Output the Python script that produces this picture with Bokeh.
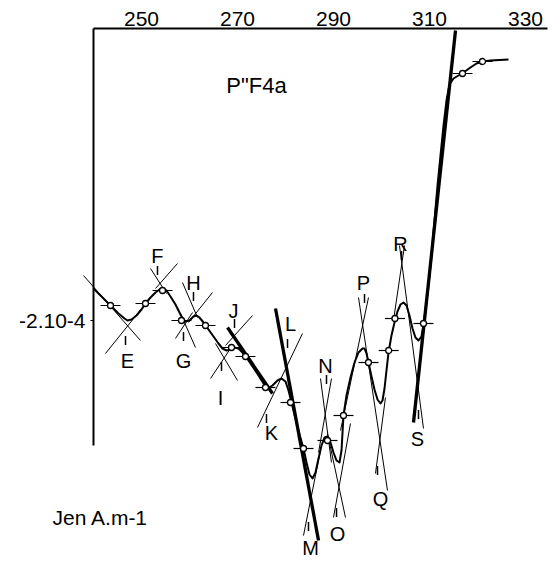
import math
from bokeh.plotting import figure
from bokeh.models import Range1d, FixedTicker, Label, ColumnDataSource
from bokeh.core.properties import value
from bokeh.embed import file_html
from bokeh.resources import INLINE

# ---- data (x in axis units, y in units of 1e-4 A/m) ----
x_ticks = [250, 270, 290, 310, 330]
y_ticks = [-2]
y_tick_labels = {-2: "-2.10-4"}

curve_x = [240.0, 241.67, 243.54, 245.21, 246.46, 247.08, 247.92, 248.96, 250.0, 250.83,
           251.88, 252.92, 253.75, 254.38, 255.21, 256.04, 257.08, 257.92, 258.54, 259.17,
           260.0, 260.83, 261.46, 262.08, 262.92, 263.96, 265.0, 266.04, 266.88, 267.71,
           268.54, 269.38, 270.21, 271.04, 271.88, 273.13, 274.38, 275.42, 276.25, 277.29,
           278.33, 279.17, 280.0, 280.63, 281.25, 282.08, 282.92, 283.75, 284.38, 285.0,
           285.63, 286.25, 286.88, 287.5, 288.13, 288.75, 289.38, 290.0, 290.63, 291.25,
           291.67, 292.08, 292.71, 293.54, 294.38, 295.21, 296.04, 296.46, 296.88, 297.29,
           297.92, 298.54, 299.17, 299.79, 300.21, 300.63, 301.04, 301.46, 302.08, 302.71,
           303.33, 303.96, 304.58, 305.21, 305.83, 306.46, 307.08, 307.71, 308.33, 308.75,
           309.17, 309.79, 310.42, 311.04, 311.67, 312.29, 312.92, 313.54, 314.17, 315.0,
           316.04, 317.08, 318.54, 319.79, 321.04, 322.71, 326.46]
curve_y = [-1.68, -1.76, -1.85, -1.93, -1.98, -2.0, -1.99, -1.95, -1.89, -1.83,
           -1.77, -1.72, -1.69, -1.68, -1.70, -1.76, -1.84, -1.92, -1.98, -2.01,
           -2.0, -1.96, -1.95, -1.97, -2.02, -2.09, -2.16, -2.23, -2.28, -2.30,
           -2.29, -2.27, -2.28, -2.32, -2.37, -2.46, -2.55, -2.63, -2.68, -2.65,
           -2.60, -2.58, -2.61, -2.70, -2.82, -2.98, -3.14, -3.28, -3.42, -3.54,
           -3.58, -3.52, -3.38, -3.25, -3.17, -3.16, -3.22, -3.32, -3.40, -3.42,
           -3.30, -2.95, -2.75, -2.57, -2.42, -2.32, -2.28, -2.28, -2.33, -2.42,
           -2.56, -2.69, -2.79, -2.83, -2.80, -2.68, -2.50, -2.32, -2.15, -2.02,
           -1.91, -1.84, -1.82, -1.85, -1.95, -2.08, -2.17, -2.20, -2.16, -2.05,
           -1.90, -1.65, -1.35, -1.00, -0.65, -0.35, -0.05, 0.20, 0.36, 0.42,
           0.45, 0.48, 0.53, 0.57, 0.59, 0.60, 0.61]

# reading points (small open circles with a horizontal stroke)
mark_x = [243.54, 250.83, 254.38, 258.33, 263.33, 268.75, 271.67, 275.83, 281.04,
          283.75, 288.75, 292.08, 297.29, 301.5, 302.8, 308.75, 316.88, 321.04]
mark_y = [-1.85, -1.83, -1.70, -2.00, -2.05, -2.27, -2.36, -2.67, -2.82,
          -3.28, -3.20, -2.95, -2.42, -2.30, -1.98, -2.03, 0.47, 0.59]

# extrema letters and their small vertical strokes
letters = ["E", "F", "G", "H", "I", "J", "K", "L", "M", "N", "O", "P", "Q", "R", "S"]
letter_x = [247.08, 253.33, 258.75, 260.83, 266.46, 269.17, 277.08, 281.04, 285.21,
            288.33, 290.83, 296.25, 299.79, 303.96, 307.5]
letter_y = [-2.40, -1.35, -2.40, -1.62, -2.77, -1.90, -3.12, -2.03, -4.27,
            -2.45, -4.13, -1.62, -3.78, -1.23, -3.18]
tick_x = [246.67, 253.33, 258.75, 260.83, 266.67, 269.38, 276.04, 280.42, 284.79,
          288.54, 290.63, 296.46, 299.17, 304.17, 307.71]
tick_y = [-2.20, -1.50, -2.16, -1.76, -2.46, -2.03, -2.98, -2.23, -4.06,
          -2.59, -3.92, -1.78, -3.50, -1.35, -2.94]

# thin tangent lines
thin_x0 = [237.92, 242.5, 251.88, 252.92, 257.08, 258.13, 258.54, 259.79, 264.38, 265.42,
           267.5, 274.17, 283.75, 287.29, 289.58, 288.75, 293.54, 295.21, 297.29, 300.83,
           302.5, 303.75]
thin_y0 = [-1.55, -2.33, -1.48, -1.68, -2.18, -1.93, -1.62, -2.02, -2.58, -2.23,
           -2.25, -3.07, -4.15, -2.58, -2.58, -3.13, -3.03, -1.77, -1.77, -2.77,
           -2.0, -1.25]
thin_x1 = [249.79, 251.88, 255.21, 257.5, 260.63, 261.25, 261.67, 264.79, 268.96, 270.0,
           273.13, 283.54, 287.29, 289.58, 286.88, 292.5, 290.0, 301.25, 291.46, 298.75,
           304.79, 308.75]
thin_y1 = [-2.20, -1.77, -1.73, -1.43, -1.92, -2.27, -1.97, -1.72, -2.25, -2.60,
           -1.95, -2.13, -3.30, -3.42, -3.32, -3.97, -3.97, -3.70, -3.10, -3.53,
           -1.25, -3.08]

# thick lines (J-K, L-M, S)
thick_x0 = [267.92, 277.92, 306.67]
thick_y0 = [-2.07, -1.88, -3.02]
thick_x1 = [277.29, 286.88, 315.42]
thick_y1 = [-2.73, -4.20, 0.90]

FONT = "Liberation Sans"

p = figure(width=556, height=565, output_backend="svg", toolbar_location=None,
           x_range=Range1d(220.625, 336.46), y_range=Range1d(-4.45, 1.2),
           x_axis_location="above",
           min_border_left=0, min_border_right=0, min_border_top=0, min_border_bottom=0)
p.grid.visible = False
p.outline_line_color = None
p.background_fill_color = "white"
p.border_fill_color = "white"

xa = p.xaxis[0]
xa.fixed_location = 0.92
xa.bounds = (240, 334.58)
xa.ticker = FixedTicker(ticks=x_ticks)
xa.major_label_text_font = FONT
xa.major_label_text_font_size = "21px"
xa.major_label_text_color = "black"
xa.major_tick_out = 0
xa.major_tick_in = 0
xa.minor_tick_out = 0
xa.minor_tick_in = 0
xa.major_label_standoff = 3
xa.axis_line_width = 2
xa.axis_line_color = "black"

ya = p.yaxis[0]
ya.fixed_location = 240
ya.bounds = (-3.25, 0.92)
ya.ticker = FixedTicker(ticks=y_ticks)
ya.major_label_overrides = y_tick_labels
ya.major_label_text_font = FONT
ya.major_label_text_font_size = "21px"
ya.major_label_text_color = "black"
ya.major_tick_out = 3
ya.major_tick_in = 0
ya.minor_tick_out = 0
ya.minor_tick_in = 0
ya.major_label_standoff = 5
ya.axis_line_width = 2
ya.axis_line_color = "black"

p.segment(x0=thin_x0, y0=thin_y0, x1=thin_x1, y1=thin_y1, line_color="black", line_width=1)
p.segment(x0=thick_x0, y0=thick_y0, x1=thick_x1, y1=thick_y1, line_color="black", line_width=3.3)
p.line(curve_x, curve_y, line_color="black", line_width=2, line_join="round")

p.scatter(mark_x, mark_y, marker="dash", size=20, line_color="black", line_width=1.2)
p.scatter(mark_x, mark_y, marker="circle", size=6, line_color="black", line_width=1.3,
          fill_color="white")
p.scatter(tick_x, tick_y, marker="dash", angle=math.pi / 2, size=9, line_color="black",
          line_width=1.5)

src = ColumnDataSource(dict(x=letter_x, y=letter_y, t=letters))
p.text(x="x", y="y", text="t", source=src, text_font=value(FONT), text_font_size="20px",
       text_align="center", text_baseline="middle", text_color="black")

p.add_layout(Label(x=273.96, y=0.35, text='P"F4a', text_font=FONT, text_font_size="22px",
                   text_align="center", text_baseline="middle", text_color="black"))
p.add_layout(Label(x=231.46, y=-3.97, text="Jen A.m-1", text_font=FONT,
                   text_font_size="21px", text_align="left", text_baseline="middle",
                   text_color="black"))

open("out.html", "w").write(file_html(p, INLINE))
